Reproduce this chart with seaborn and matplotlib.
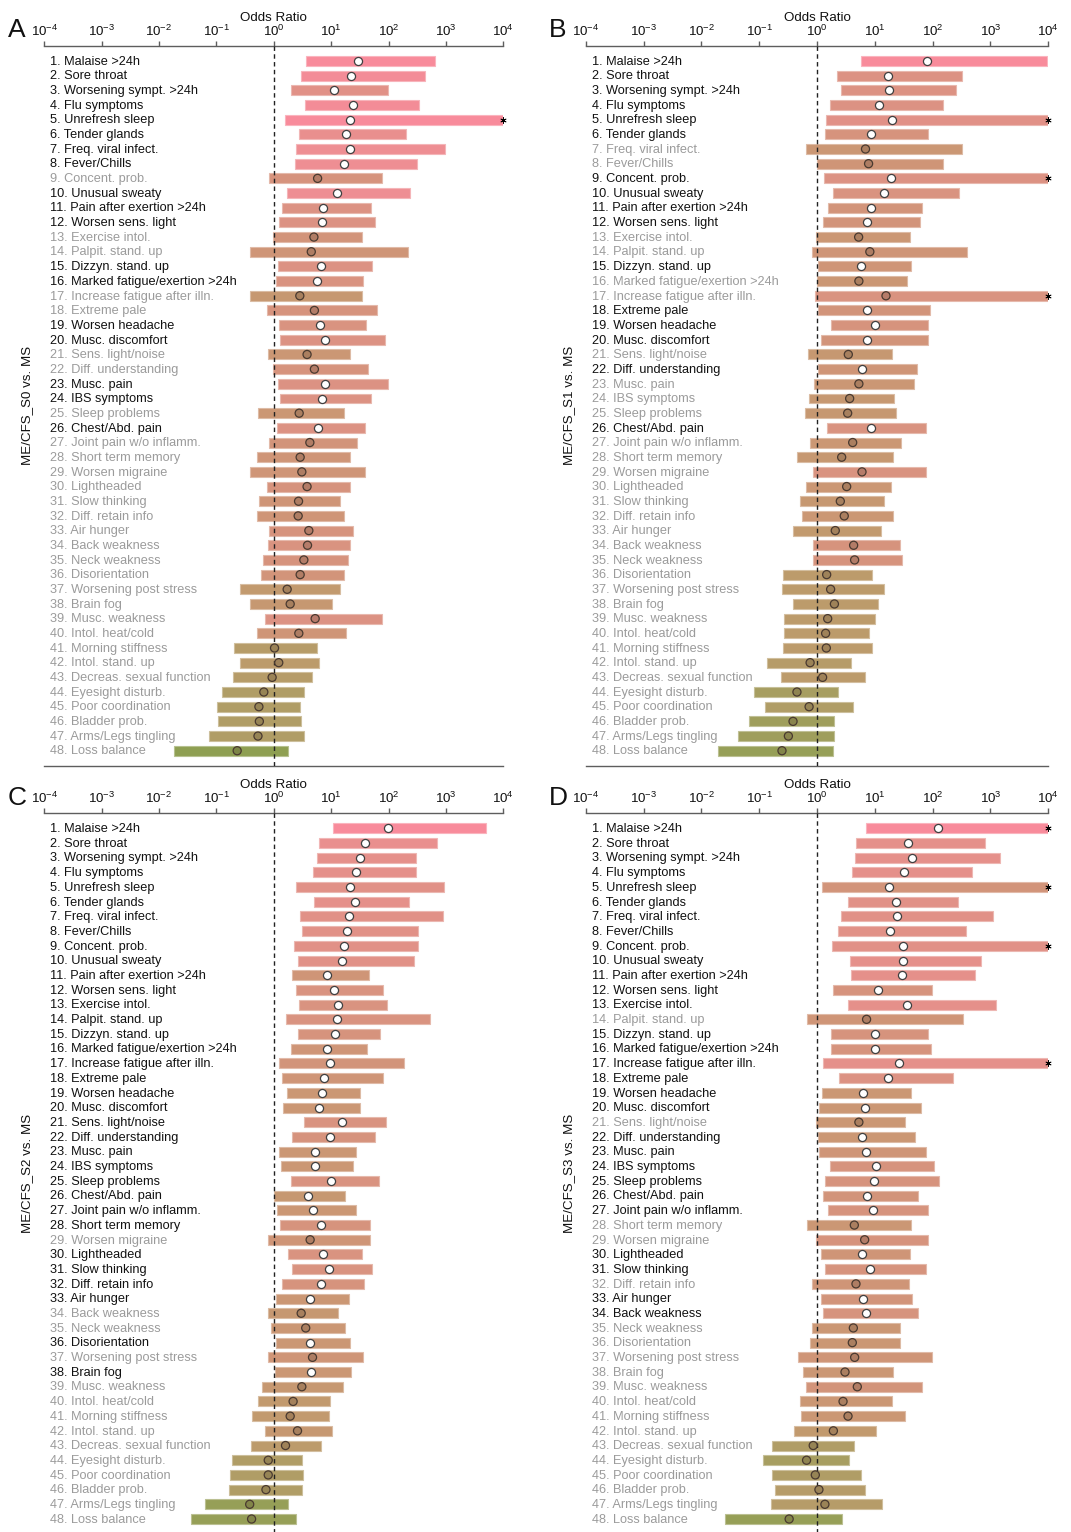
import numpy as np
import pandas as pd
import matplotlib
matplotlib.use("Agg")
import matplotlib.pyplot as plt
import matplotlib.transforms as mtransforms
from matplotlib.colors import LinearSegmentedColormap, to_rgb
import seaborn as sns

inf = np.inf

symptoms = [
    "Malaise >24h", "Sore throat", "Worsening sympt. >24h", "Flu symptoms",
    "Unrefresh sleep", "Tender glands", "Freq. viral infect.", "Fever/Chills",
    "Concent. prob.", "Unusual sweaty", "Pain after exertion >24h",
    "Worsen sens. light", "Exercise intol.", "Palpit. stand. up",
    "Dizzyn. stand. up", "Marked fatigue/exertion >24h",
    "Increase fatigue after illn.", "Extreme pale", "Worsen headache",
    "Musc. discomfort", "Sens. light/noise", "Diff. understanding",
    "Musc. pain", "IBS symptoms", "Sleep problems", "Chest/Abd. pain",
    "Joint pain w/o inflamm.", "Short term memory", "Worsen migraine",
    "Lightheaded", "Slow thinking", "Diff. retain info", "Air hunger",
    "Back weakness", "Neck weakness", "Disorientation",
    "Worsening post stress", "Brain fog", "Musc. weakness",
    "Intol. heat/cold", "Morning stiffness", "Intol. stand. up",
    "Decreas. sexual function", "Eyesight disturb.", "Poor coordination",
    "Bladder prob.", "Arms/Legs tingling", "Loss balance",
]

# ---- ME/CFS_S0 vs. MS ----
or_A = [29, 21.8, 11.4, 24.3, 21.2, 17.8, 21.5, 16.6, 5.8, 12.4,
        7.2, 7.0, 5.0, 4.5, 6.7, 5.7, 2.84, 5.1, 6.3, 7.9,
        3.8, 5.1, 7.8, 6.8, 2.77, 6.0, 4.25, 2.88, 3.08, 3.8,
        2.7, 2.66, 4.08, 3.87, 3.34, 2.88, 1.71, 1.93, 5.26, 2.73,
        1.03, 1.22, 0.935, 0.67, 0.55, 0.56, 0.53, 0.23]
lo_A = [3.7, 2.96, 2.0, 3.5, 1.58, 2.73, 2.45, 2.32, 0.82, 1.71,
        1.40, 1.24, 0.98, 0.38, 1.17, 1.11, 0.38, 0.75, 1.22, 1.27,
        0.78, 0.95, 1.19, 1.27, 0.54, 1.16, 0.81, 0.50, 0.39, 0.75,
        0.56, 0.51, 0.82, 0.79, 0.66, 0.59, 0.26, 0.39, 0.70, 0.50,
        0.20, 0.26, 0.195, 0.126, 0.101, 0.105, 0.074, 0.018]
hi_A = [650, 425, 96, 333, inf, 198, 960, 310, 76, 235,
        49, 58, 34, 214, 51, 36, 35, 63, 40, 85,
        21, 44, 96, 49, 16.4, 39, 28.5, 21, 39, 21,
        14.4, 16.6, 24, 21.4, 19.3, 17, 14.1, 10.3, 76, 18,
        5.6, 6.1, 4.6, 3.3, 2.84, 2.92, 3.38, 1.78]
sig_A = [1, 1, 1, 1, 1, 1, 1, 1, 0, 1, 1, 1, 0, 0, 1, 1, 0, 0, 1, 1,
         0, 0, 1, 1, 0, 1, 0, 0, 0, 0, 0, 0, 0, 0, 0, 0, 0, 0, 0, 0,
         0, 0, 0, 0, 0, 0, 0, 0]
tone_A = [1.0, 0.95, 0.75, 0.95, 1.0, 0.85, 0.9, 0.9, 0.6, 0.9,
          0.7, 0.7, 0.55, 0.5, 0.7, 0.65, 0.4, 0.6, 0.65, 0.7,
          0.45, 0.6, 0.7, 0.7, 0.45, 0.7, 0.55, 0.5, 0.5, 0.6,
          0.5, 0.5, 0.6, 0.65, 0.6, 0.55, 0.35, 0.4, 0.7, 0.5,
          0.25, 0.3, 0.25, 0.2, 0.2, 0.2, 0.2, 0.0]

# ---- ME/CFS_S1 vs. MS ----
or_B = [80, 16.7, 17.8, 11.6, 20, 8.6, 6.9, 7.8, 18.8, 14.6,
        8.6, 7.3, 5.25, 8.2, 5.76, 5.3, 15.6, 7.2, 10.2, 7.3,
        3.48, 5.9, 5.3, 3.67, 3.39, 8.7, 4.14, 2.67, 6.0, 3.26,
        2.53, 2.96, 2.07, 4.3, 4.47, 1.47, 1.72, 2.0, 1.53, 1.41,
        1.45, 0.76, 1.25, 0.45, 0.73, 0.385, 0.32, 0.248]
lo_B = [5.7, 2.22, 2.63, 1.70, 1.43, 1.37, 0.64, 0.99, 1.34, 1.89,
        1.53, 1.25, 0.98, 0.81, 1.04, 0.99, 0.935, 1.04, 1.77, 1.17,
        0.69, 1.04, 0.875, 0.72, 0.62, 1.51, 0.77, 0.46, 0.85, 0.65,
        0.515, 0.54, 0.385, 0.84, 0.85, 0.255, 0.248, 0.385, 0.27, 0.27,
        0.255, 0.138, 0.24, 0.083, 0.128, 0.068, 0.043, 0.0195]
hi_B = [9500, 325, 252, 151, inf, 83, 322, 151, inf, 285,
        66, 60, 40, 388, 41.6, 35.5, inf, 89.6, 84, 81.6,
        20, 52.7, 47.6, 21.7, 23.5, 77.6, 28.3, 20.9, 76.7, 18.8,
        14.6, 20.3, 12.6, 27.2, 29, 8.9, 14.6, 11.5, 10.1, 7.9,
        9.1, 3.9, 6.85, 2.28, 4.2, 2.0, 1.94, 1.92]
sig_B = [1, 1, 1, 1, 1, 1, 0, 0, 1, 1, 1, 1, 0, 0, 1, 0, 0, 1, 1, 1,
         0, 1, 0, 0, 0, 1, 0, 0, 0, 0, 0, 0, 0, 0, 0, 0, 0, 0, 0, 0,
         0, 0, 0, 0, 0, 0, 0, 0]
tone_B = [1.0, 0.7, 0.7, 0.7, 0.75, 0.6, 0.45, 0.5, 0.7, 0.65,
          0.55, 0.55, 0.45, 0.5, 0.5, 0.45, 0.65, 0.55, 0.6, 0.55,
          0.4, 0.5, 0.45, 0.4, 0.4, 0.65, 0.45, 0.4, 0.65, 0.45,
          0.4, 0.45, 0.35, 0.6, 0.6, 0.3, 0.3, 0.3, 0.3, 0.3,
          0.3, 0.25, 0.3, 0.15, 0.2, 0.1, 0.1, 0.05]

# ---- ME/CFS_S2 vs. MS ----
or_C = [98.6, 39, 31.6, 27, 20.9, 25.9, 20.6, 19, 16.6, 15.5,
        8.6, 11.3, 13.2, 12.4, 11.6, 8.5, 9.6, 7.35, 6.8, 6.2,
        15.4, 9.6, 5.33, 5.33, 9.87, 4.0, 4.85, 6.7, 4.3, 7.25,
        9.2, 6.6, 4.36, 3.0, 3.6, 4.36, 4.73, 4.54, 3.08, 2.17,
        1.93, 2.59, 1.6, 0.80, 0.80, 0.73, 0.38, 0.41]
lo_C = [10.7, 6.2, 5.7, 4.9, 2.42, 5.0, 2.88, 3.16, 2.23, 2.59,
        2.06, 2.45, 2.73, 1.66, 2.59, 2.03, 1.21, 1.38, 1.69, 1.42,
        3.34, 2.06, 1.22, 1.32, 1.98, 1.01, 1.14, 1.26, 0.79, 1.78,
        2.06, 1.40, 1.10, 0.79, 0.91, 1.10, 0.78, 1.04, 0.63, 0.53,
        0.42, 0.69, 0.40, 0.19, 0.175, 0.164, 0.063, 0.036]
hi_C = [5000, 700, 300, 300, 935, 229, 889, 325, 325, 273,
        45, 79.5, 94.8, 533, 71.6, 41.9, 187, 79.5, 32, 31.2,
        91, 58.5, 26.6, 24.2, 68.7, 17.3, 26.6, 46.6, 47.2, 34.3,
        51, 38, 20.6, 13.1, 17.3, 20.9, 35.7, 22, 16.2, 9.35,
        9.1, 10.5, 6.6, 3.16, 3.25, 3.04, 1.75, 2.48]
sig_C = [1] * 28 + [0, 1, 1, 1, 1, 0, 0, 1, 0, 1] + [0] * 10
tone_C = [1.0, 0.85, 0.8, 0.8, 0.75, 0.8, 0.75, 0.75, 0.75, 0.75,
          0.5, 0.65, 0.65, 0.65, 0.6, 0.5, 0.55, 0.5, 0.45, 0.45,
          0.65, 0.6, 0.45, 0.45, 0.65, 0.4, 0.45, 0.6, 0.5, 0.65,
          0.65, 0.6, 0.45, 0.4, 0.45, 0.45, 0.5, 0.45, 0.4, 0.35,
          0.35, 0.4, 0.3, 0.2, 0.2, 0.2, 0.05, 0.05]

# ---- ME/CFS_S3 vs. MS ----
or_D = [124, 38, 43.4, 31.4, 17.8, 23.5, 23.9, 18.3, 30.3, 31.1,
        29.9, 11.3, 35.5, 7.2, 10.1, 10.2, 25.8, 16.7, 6.3, 6.67,
        5.3, 5.9, 7.0, 10.5, 9.7, 7.2, 9.4, 4.42, 6.67, 6.08,
        8.1, 4.72, 6.16, 7.1, 4.25, 4.08, 4.48, 3.05, 4.98, 2.82,
        3.44, 1.92, 0.86, 0.66, 0.935, 1.08, 1.37, 0.33]
lo_D = [7.1, 4.67, 4.48, 4.08, 1.22, 3.44, 2.6, 2.34, 1.82, 3.67,
        3.82, 1.92, 3.48, 0.68, 1.75, 1.72, 1.25, 2.43, 1.22, 1.07,
        0.98, 1.03, 1.07, 1.68, 1.36, 1.29, 1.57, 0.68, 0.96, 1.17,
        1.36, 0.81, 1.16, 1.27, 0.82, 0.77, 0.475, 0.565, 0.645, 0.50,
        0.53, 0.40, 0.169, 0.116, 0.164, 0.185, 0.158, 0.0256]
hi_D = [inf, 815, 1460, 485, inf, 278, 1090, 372, inf, 685,
        547, 98.7, 1230, 339, 83, 94.8, inf, 222, 41.6, 63.6,
        33.2, 48.9, 76.7, 107, 129, 55.7, 82, 42.2, 84, 41,
        75.7, 39.5, 44, 55, 27.6, 27.6, 96, 20.6, 66, 19.8,
        32.8, 10.6, 4.36, 3.57, 5.69, 6.76, 13.3, 2.67]
sig_D = [1] * 13 + [0] + [1] * 6 + [0] + [1] * 6 + [0, 0, 1, 1, 0, 1, 1] + [0] * 14
tone_D = [1.0, 0.8, 0.8, 0.8, 0.55, 0.75, 0.75, 0.75, 0.75, 0.8,
          0.8, 0.6, 0.8, 0.5, 0.6, 0.6, 0.8, 0.7, 0.45, 0.45,
          0.45, 0.45, 0.5, 0.6, 0.6, 0.55, 0.6, 0.45, 0.6, 0.5,
          0.6, 0.5, 0.55, 0.6, 0.45, 0.45, 0.5, 0.45, 0.55, 0.45,
          0.45, 0.35, 0.2, 0.15, 0.2, 0.25, 0.25, 0.05]

decades = [-4, -3, -2, -1, 0, 1, 2, 3, 4]
XMIN, XMAX = 1e-4, 1e4

# ---------------------------------------------------------------- style
sns.set_theme(style="white")
plt.rcParams["font.family"] = ["Liberation Sans", "DejaVu Sans"]
plt.rcParams["mathtext.fontset"] = "custom"
plt.rcParams["mathtext.rm"] = "Liberation Sans"
plt.rcParams["mathtext.it"] = "Liberation Sans:italic"
plt.rcParams["mathtext.bf"] = "Liberation Sans:bold"

cmap = LinearSegmentedColormap.from_list(
    "olive_pink",
    [(0.0, "#8e9f52"), (0.2, "#b09d66"), (0.35, "#c29a6e"),
     (0.5, "#cf9577"), (0.7, "#dc9283"), (0.85, "#e98f8e"),
     (1.0, "#f88b9b")],
)


def mix(c, other, f):
    a, b = np.array(to_rgb(c)), np.array(to_rgb(other))
    return tuple(a * (1 - f) + b * f)


def draw_panel(ax, ylabel, odds, lo, hi, sig, tone):
    n = len(symptoms)
    rows = np.arange(1, n + 1)
    odds = np.asarray(odds, float)
    lo = np.asarray(lo, float)
    hi = np.asarray(hi, float)
    sig = np.asarray(sig, bool)
    open_end = ~np.isfinite(hi)
    hi_draw = np.where(open_end, XMAX, hi)

    bar_cols = [cmap(t) for t in tone]
    edge_cols = [mix(c[:3], "white", 0.35) for c in bar_cols]
    dot_cols = [mix(c[:3], "#3a2a1a", 0.22) for c in bar_cols]

    ax.set_xscale("log")
    ax.barh(rows, hi_draw - lo, left=lo, height=0.68, color=bar_cols,
            edgecolor=edge_cols, linewidth=0.8, zorder=2)

    ax.axvline(1, color="#222222", lw=1.0, dashes=(3.2, 2.4), zorder=3)

    df = pd.DataFrame({"row": rows, "odds": odds, "sig": sig,
                       "label": symptoms})
    sns.scatterplot(data=df[df.sig], x="odds", y="row", color="white",
                    edgecolor="#404040", linewidth=0.9, s=34, ax=ax,
                    zorder=4)
    sns.scatterplot(data=df[~df.sig], x="odds", y="row", hue="label",
                    palette={lab: dot_cols[i] for i, lab in enumerate(symptoms)},
                    edgecolor="#4a3a30", linewidth=0.9, s=34, ax=ax,
                    legend=False, zorder=4)

    if open_end.any():
        ax.scatter(np.full(open_end.sum(), XMAX), rows[open_end],
                   marker=(6, 2, 0), s=16, color="black", linewidths=0.6,
                   zorder=5, clip_on=False)

    trans = mtransforms.blended_transform_factory(ax.transAxes, ax.transData)
    for i, (name, s) in enumerate(zip(symptoms, sig)):
        ax.text(0.0135, rows[i] + 0.05, f"{i + 1}. {name}", transform=trans,
                ha="left", va="center", fontsize=9.2,
                color="#111111" if s else "#9b9b9b", zorder=6)

    ax.set_xlim(XMIN, XMAX)
    ax.set_ylim(n + 1.02, -0.04)
    ax.set_yticks([])
    ax.xaxis.tick_top()
    ax.xaxis.set_label_position("top")
    ax.set_xticks([10.0 ** d for d in decades])
    ax.set_xticklabels([rf"$\mathregular{{10^{{{d}}}}}$" for d in decades])
    ax.xaxis.set_minor_locator(matplotlib.ticker.NullLocator())
    ax.tick_params(axis="x", which="major", top=True, bottom=False,
                   direction="out", length=3.8, width=1.0, color="#5e5e5e",
                   pad=1.2, labelsize=9.6, labelcolor="#111111")
    ax.set_xlabel("Odds Ratio", fontsize=9.6, labelpad=2, color="#111111")
    ax.set_ylabel(ylabel, fontsize=9.6, color="#111111")
    ax.yaxis.set_label_coords(-0.024, 0.5)
    for side in ("left", "right"):
        ax.spines[side].set_visible(False)
    for side in ("top", "bottom"):
        ax.spines[side].set_visible(True)
        ax.spines[side].set_color("#5e5e5e")
        ax.spines[side].set_linewidth(1.0)
    ax.grid(False)


W, H = 1071, 1532
fig = plt.figure(figsize=(W / 100, H / 100), dpi=100)

layout = [
    ("A", "ME/CFS_S0 vs. MS", or_A, lo_A, hi_A, sig_A, tone_A, (44.3, 45.7, 459.0, 720.0), (17, 30)),
    ("B", "ME/CFS_S1 vs. MS", or_B, lo_B, hi_B, sig_B, tone_B, (585.7, 45.7, 462.6, 720.0), (558, 30)),
    ("C", "ME/CFS_S2 vs. MS", or_C, lo_C, hi_C, sig_C, tone_C, (44.3, 813.0, 459.0, 721.0), (17, 798)),
    ("D", "ME/CFS_S3 vs. MS", or_D, lo_D, hi_D, sig_D, tone_D, (585.7, 813.0, 462.6, 721.0), (558, 798)),
]

for letter, ylab, o, l, h, s, t, (px, py, pw, ph), (lx, ly) in layout:
    ax = fig.add_axes([px / W, 1 - (py + ph) / H, pw / W, ph / H])
    draw_panel(ax, ylab, o, l, h, s, t)
    fig.text(lx / W, 1 - ly / H, letter, ha="center", va="center",
             fontsize=19, color="#111111")

fig.savefig("out.png", dpi=100, facecolor="white")
